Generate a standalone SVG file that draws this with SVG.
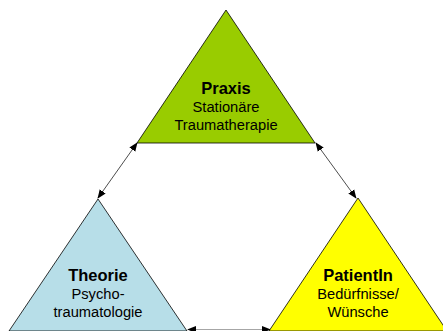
<svg xmlns="http://www.w3.org/2000/svg" width="443" height="331" viewBox="0 0 443 331">
<style>
.tri{stroke:#000;stroke-width:0.8;stroke-linejoin:miter}
.t{font-family:"Liberation Sans",Arial,sans-serif;text-anchor:middle;fill:#000}
.b{font-weight:bold;font-size:16.5px}
.r{font-size:14.7px}
.c{stroke:#000;stroke-width:0.7;fill:none;marker-start:url(#a);marker-end:url(#a)}
</style>
<defs>
<marker id="a" viewBox="0 0 10 10" refX="9" refY="5" markerWidth="9" markerHeight="9" markerUnits="userSpaceOnUse" orient="auto-start-reverse">
<path d="M0,1 L10,5 L0,9 z" fill="#000"/>
</marker>
</defs>
<rect width="443" height="331" fill="#fff"/>
<g id="connectors">
<line class="c" x1="137" y1="143" x2="98" y2="198"/>
<line class="c" x1="316" y1="143" x2="356" y2="198"/>
<line class="c" x1="188" y1="329.5" x2="270" y2="329.5" style="stroke:#808080"/>
</g>
<g id="praxis">
<polygon class="tri" points="226,10 315,143 137,143" fill="#99CC00"/>
<text class="t b" x="226" y="94">Praxis</text>
<text class="t r" x="226" y="112">Stationäre</text>
<text class="t r" x="226" y="130">Traumatherapie</text>
</g>
<g id="theorie">
<polygon class="tri" points="98,199 187,331 9,331" fill="#B7DEE8"/>
<text class="t b" x="98" y="281">Theorie</text>
<text class="t r" x="98" y="299">Psycho-</text>
<text class="t r" x="98" y="317">traumatologie</text>
</g>
<g id="patientin">
<polygon class="tri" points="358,198 447,331 269,331" fill="#FFFF00"/>
<text class="t b" x="358" y="281">PatientIn</text>
<text class="t r" x="358" y="299">Bedürfnisse/</text>
<text class="t r" x="358" y="317">Wünsche</text>
</g>
</svg>
